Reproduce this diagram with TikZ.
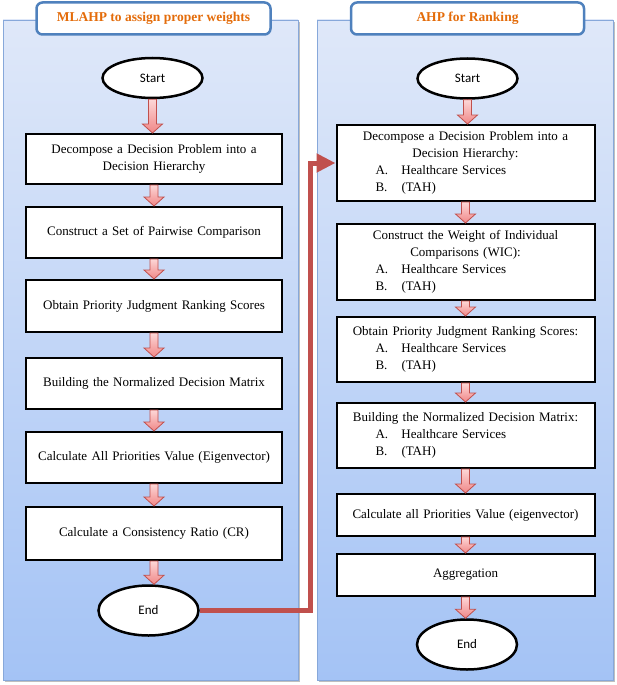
\documentclass[tikz,border=0pt]{standalone}
\usepackage{fontspec}
\setmainfont{Liberation Serif}
\newfontfamily\calibri{Carlito}
\usetikzlibrary{arrows.meta,calc,shapes.geometric}

\definecolor{panelTop}{RGB}{223,232,249}
\definecolor{panelBot}{RGB}{164,195,245}
\definecolor{panelLine}{RGB}{135,168,218}
\definecolor{titleLine}{RGB}{79,129,189}
\definecolor{titleText}{RGB}{228,108,10}
\definecolor{linkRed}{RGB}{192,80,77}
\definecolor{arrTop}{RGB}{253,215,215}
\definecolor{arrBot}{RGB}{240,135,135}

% list line inside the ranking boxes
\newcommand{\itm}[2]{\makebox[250pt][l]{\hspace{35pt}\makebox[26pt][l]{#1}#2}}
% block arrow from one node down to the next
\newcommand{\flowarr}[2]{%
  \draw[flowarrow] let \p1=(#1.south), \p2=(#2.north) in
    (\x1-4pt,\y1) -- (\x1+4pt,\y1) -- (\x1+4pt,\y2+9pt) -- (\x1+10pt,\y2+9pt)
    -- (\x1,\y2) -- (\x1-10pt,\y2+9pt) -- (\x1-4pt,\y2+9pt) -- cycle;}

\begin{document}
\begin{tikzpicture}[x=1pt,y=-1pt,
    panel/.style={draw=panelLine,line width=0.8pt,top color=panelTop,bottom color=panelBot},
    title/.style={rectangle,rounded corners=6pt,draw=titleLine,line width=2.5pt,fill=white,
                  minimum height=32pt,text=titleText,font=\bfseries\fontsize{13.5}{16}\selectfont},
    terminal/.style={ellipse,draw,line width=2.5pt,fill=white,minimum width=100pt,
                     font=\calibri\fontsize{13}{15}\selectfont},
    stepbox/.style={rectangle,draw,line width=2pt,fill=white,align=center,
                    font=\fontsize{13}{17}\selectfont},
    lbox/.style={stepbox,minimum width=256pt,text width=246pt},
    rbox/.style={stepbox,minimum width=258pt,text width=250pt,inner sep=4pt},
    flowarrow/.style={draw=linkRed,line width=0.8pt,top color=arrTop,bottom color=arrBot},
    link/.style={draw=linkRed,line width=5pt,-{Triangle[length=19pt,width=18pt]}}]
  \useasboundingbox (0,0) rectangle (616,685);

  % panels
  \fill[black!25] (5,22) rectangle (300,682);
  \fill[black!25] (319,22) rectangle (615,682);
  \draw[panel] (3,20) rectangle (298,680);
  \draw[panel] (317,20) rectangle (613,680);
  \node (lTitle) at (153.5,18.5) [title,minimum width=234pt] {MLAHP to assign proper weights};
  \node (rTitle) at (467.5,18.5) [title,minimum width=233pt] {AHP for Ranking};

  % MLAHP column
  \node (lStart) at (152.5,78) [terminal,minimum height=40pt] {Start};
  \node (lb1) at (154,159) [lbox,minimum height=50pt] {Decompose a Decision Problem into a\\Decision Hierarchy};
  \node (lb2) at (154,232.5) [lbox,minimum height=51pt] {Construct a Set of Pairwise Comparison};
  \node (lb3) at (154,306) [lbox,minimum height=52pt] {Obtain Priority Judgment Ranking Scores};
  \node (lb4) at (154,383.5) [lbox,minimum height=51pt] {Building the Normalized Decision Matrix};
  \node (lb5) at (154,457.5) [lbox,minimum height=51pt] {Calculate All Priorities Value (Eigenvector)};
  \node (lb6) at (154,533.5) [lbox,minimum height=53pt] {Calculate a Consistency Ratio (CR)};
  \node (lEnd) at (148.5,610.5) [terminal,minimum height=50pt] {End};

  % AHP column
  \node (rStart) at (467.5,78.5) [terminal,minimum height=40pt] {Start};
  \node (rb1) at (465.5,163) [rbox,minimum height=76pt] {Decompose a Decision Problem into a\\Decision Hierarchy:\\\itm{A.}{Healthcare Services}\\\itm{B.}{(TAH)}};
  \node (rb2) at (465.5,262) [rbox,minimum height=76pt] {Construct the Weight of Individual\\Comparisons (WIC):\\\itm{A.}{Healthcare Services}\\\itm{B.}{(TAH)}};
  \node (rb3) at (465.5,349.5) [rbox,minimum height=65pt] {Obtain Priority Judgment Ranking Scores:\\\itm{A.}{Healthcare Services}\\\itm{B.}{(TAH)}};
  \node (rb4) at (465.5,435.5) [rbox,minimum height=65pt] {Building the Normalized Decision Matrix:\\\itm{A.}{Healthcare Services}\\\itm{B.}{(TAH)}};
  \node (rb5) at (465.5,515) [rbox,minimum height=42pt] {Calculate all Priorities Value (eigenvector)};
  \node (rb6) at (465.5,575) [rbox,minimum height=42pt] {Aggregation};
  \node (rEnd) at (467,644.5) [terminal,minimum height=50pt] {End};

  % block arrows
  \flowarr{lStart}{lb1}
  \flowarr{lb1}{lb2}
  \flowarr{lb2}{lb3}
  \flowarr{lb3}{lb4}
  \flowarr{lb4}{lb5}
  \flowarr{lb5}{lb6}
  \flowarr{lb6}{lEnd}
  \flowarr{rStart}{rb1}
  \flowarr{rb1}{rb2}
  \flowarr{rb2}{rb3}
  \flowarr{rb3}{rb4}
  \flowarr{rb4}{rb5}
  \flowarr{rb5}{rb6}
  \flowarr{rb6}{rEnd}

  % hand-over between the two procedures
  \draw[link] (lEnd.east) -| ([xshift=-25pt]rb1.west) -- (rb1.west);
\end{tikzpicture}
\end{document}
